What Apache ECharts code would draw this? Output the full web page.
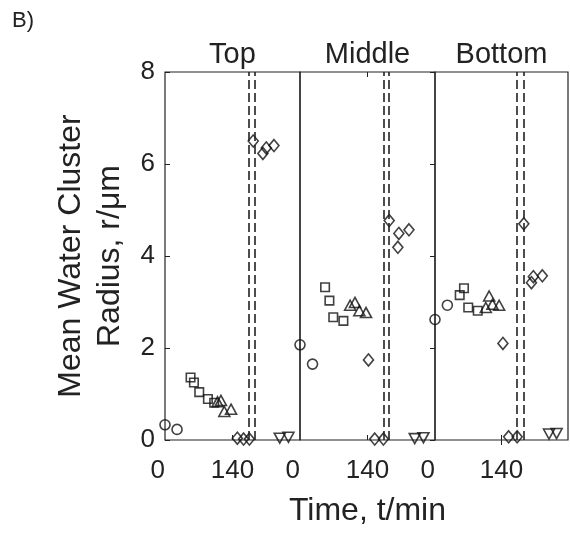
<!DOCTYPE html>
<html>
<head>
<meta charset="utf-8">
<script src="https://cdn.jsdelivr.net/npm/echarts@6/dist/echarts.min.js"></script>
<style>
  html, body { margin: 0; padding: 0; background: #fff; }
  #chart { width: 570px; height: 537px; }
</style>
</head>
<body>
<div id="chart"></div>
<script>
// panel titles and axis ticks
const panelNames = ['Top', 'Middle', 'Bottom'];
const xTicks = [0, 140];
const yTicks = [0, 2, 4, 6, 8];

// Top: [time (min), radius (µm)]
const topCircles = [[0, 0.33], [25, 0.23]];
const topSquares = [[53, 1.36], [60, 1.25], [71, 1.04], [89, 0.89], [102, 0.81]];
const topTriangles = [[109, 0.83], [116, 0.86], [123, 0.62], [137, 0.67]];
const topDiamonds = [[150, 0.04], [163, 0.02], [175, 0.02], [183, 6.5], [203, 6.23], [210, 6.35], [226, 6.4]];
const topDownTriangles = [[238, 0.04], [256, 0.06]];
const topDashed = [173, 187];

// Middle
const midCircles = [[0, 2.07], [26, 1.65]];
const midSquares = [[52, 3.32], [61, 3.03], [69, 2.67], [90, 2.59]];
const midTriangles = [[104, 2.93], [114, 2.99], [123, 2.81], [137, 2.77]];
const midDiamonds = [[142, 1.74], [155, 0.02], [173, 0.02], [185, 4.77], [203, 4.19], [205, 4.49], [226, 4.57]];
const midDownTriangles = [[238, 0.03], [256, 0.05]];
const midDashed = [173, 185];

// Bottom
const botCircles = [[0, 2.62], [26, 2.93]];
const botSquares = [[52, 3.15], [61, 3.3], [70, 2.88], [90, 2.81]];
const botTriangles = [[107, 2.88], [114, 3.13], [121, 2.95], [135, 2.93]];
const botDiamonds = [[143, 2.1], [155, 0.07], [173, 0.07], [187, 4.7], [203, 3.42], [207, 3.55], [226, 3.57]];
const botDownTriangles = [[240, 0.13], [256, 0.14]];
const botDashed = [172, 186];

const panels = [
  { circles: topCircles, squares: topSquares, triangles: topTriangles, diamonds: topDiamonds, down: topDownTriangles, dashed: topDashed },
  { circles: midCircles, squares: midSquares, triangles: midTriangles, diamonds: midDiamonds, down: midDownTriangles, dashed: midDashed },
  { circles: botCircles, squares: botSquares, triangles: botTriangles, diamonds: botDiamonds, down: botDownTriangles, dashed: botDashed }
];

const FONT = '"Liberation Sans", Arial, sans-serif';
const INK = '#222';
const gridLefts = [165, 300, 435];
const gridWidths = [135, 135, 133];

const chart = echarts.init(document.getElementById('chart'));

const grids = [], xAxes = [], yAxes = [], series = [];

panels.forEach((p, i) => {
  grids.push({
    left: gridLefts[i], top: 72, width: gridWidths[i], height: 368,
    show: true, borderColor: INK, borderWidth: 1.2, backgroundColor: 'transparent'
  });

  // bottom axis with labels
  const xi = xAxes.length;
  xAxes.push({
    type: 'value', gridIndex: i, min: 0, max: 280, interval: 140,
    axisLine: { show: false },
    splitLine: { show: false },
    axisTick: { show: true, inside: true, length: 5, customValues: [140], lineStyle: { color: INK } },
    axisLabel: {
      customValues: xTicks, margin: 18, fontSize: 26, fontFamily: FONT, color: INK,
      alignMinLabel: 'right'
    }
  });
  // top axis, ticks only (not drawn on the first panel)
  if (i > 0) {
    xAxes.push({
      type: 'value', gridIndex: i, position: 'top', min: 0, max: 280, interval: 140,
      axisLine: { show: false },
      splitLine: { show: false },
      axisTick: { show: true, inside: true, length: 5, customValues: [140], lineStyle: { color: INK } },
      axisLabel: { show: false }
    });
  }

  const yi = yAxes.length;
  yAxes.push({
    type: 'value', gridIndex: i, min: 0, max: 8, interval: 2,
    axisLine: { show: false },
    splitLine: { show: false },
    axisTick: { show: i === 0, inside: true, length: 5, lineStyle: { color: INK } },
    axisLabel: { show: i === 0, customValues: yTicks, margin: 10, fontSize: 26, fontFamily: FONT, color: INK }
  });
  if (i === 2) {
    yAxes.push({
      type: 'value', gridIndex: i, position: 'right', min: 0, max: 8, interval: 2,
      axisLine: { show: false },
      splitLine: { show: false },
      axisTick: { show: true, inside: true, length: 5, lineStyle: { color: INK } },
      axisLabel: { show: false }
    });
  }

  const marker = (data, symbol, size, rotate) => ({
    type: 'scatter', xAxisIndex: xi, yAxisIndex: yi, data: data,
    symbol: symbol, symbolSize: size, symbolRotate: rotate || 0,
    clip: false, silent: true,
    itemStyle: { color: 'rgba(0,0,0,0)', borderColor: '#111', borderWidth: 1.6 }
  });

  const circ = marker(p.circles, 'circle', 10);
  circ.markLine = {
    silent: true, symbol: 'none', animation: false,
    label: { show: false },
    lineStyle: { color: INK, width: 1.6, type: [9, 4] },
    data: p.dashed.map(t => ({ xAxis: t }))
  };
  series.push(circ);
  series.push(marker(p.squares, 'rect', 8.5));
  series.push(marker(p.triangles, 'triangle', [11, 10]));
  series.push(marker(p.diamonds, 'diamond', [10, 12]));
  series.push(marker(p.down, 'triangle', [11, 10], 180));
});

const graphics = [
  { type: 'text', x: 12, y: 21, style: { text: 'B)', font: '22px ' + FONT, fill: INK, verticalAlign: 'middle' } },
  { type: 'text', x: 367.5, y: 511, style: { text: 'Time, t/min', font: '32px ' + FONT, fill: INK, align: 'center', verticalAlign: 'middle' } },
  { type: 'text', x: 71, y: 256, rotation: Math.PI / 2, style: { text: 'Mean Water Cluster', font: '32px ' + FONT, fill: INK, align: 'center', verticalAlign: 'middle' } },
  { type: 'text', x: 110.5, y: 256, rotation: Math.PI / 2, style: { text: 'Radius, r/\u03bcm', font: '32px ' + FONT, fill: INK, align: 'center', verticalAlign: 'middle' } }
];
panelNames.forEach((name, i) => {
  graphics.push({
    type: 'text', x: gridLefts[i] + gridWidths[i] / 2, y: 55,
    style: { text: name, font: '29px ' + FONT, fill: INK, align: 'center', verticalAlign: 'middle' }
  });
});

chart.setOption({
  animation: false,
  backgroundColor: '#fff',
  grid: grids,
  xAxis: xAxes,
  yAxis: yAxes,
  series: series,
  graphic: graphics
});
</script>
</body>
</html>
